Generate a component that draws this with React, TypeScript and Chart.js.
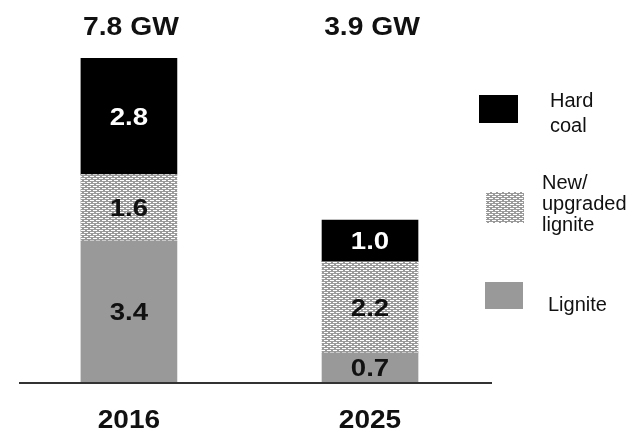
import React, { useEffect, useRef } from "react";
import { Chart, registerables } from "chart.js";

Chart.register(...registerables);

const categories = ["2016", "2025"];
const ligniteValues = [3.4, 0.7];
const newLigniteValues = [1.6, 2.2];
const hardCoalValues = [2.8, 1.0];
const totalLabels = ["7.8 GW", "3.9 GW"];
const seriesNames = ["Lignite", "New/\nupgraded\nlignite", "Hard\ncoal"];

const FONT = '"Liberation Sans", Arial, sans-serif';

function makePattern(): CanvasPattern | string {
  const c = document.createElement("canvas");
  c.width = 6;
  c.height = 4;
  const g = c.getContext("2d");
  if (!g) return "#bbb";
  g.fillStyle = "#9a9a9a";
  g.fillRect(0, 0, 6, 4);
  g.fillStyle = "#ffffff";
  g.fillRect(0, 0, 4, 1);
  g.fillRect(3, 2, 3, 1);
  g.fillRect(0, 2, 1, 1);
  const p = g.createPattern(c, "repeat");
  return p || "#bbb";
}

function drawText(
  ctx: CanvasRenderingContext2D,
  text: string,
  x: number,
  y: number,
  font: string,
  color: string,
  stretch: number,
  align: CanvasTextAlign = "center"
) {
  ctx.save();
  ctx.translate(x, y);
  ctx.scale(stretch, 1);
  ctx.font = font;
  ctx.fillStyle = color;
  ctx.textAlign = align;
  ctx.textBaseline = "alphabetic";
  ctx.fillText(text, 0, 0);
  ctx.restore();
}

export default function App() {
  const ref = useRef<HTMLCanvasElement | null>(null);

  useEffect(() => {
    if (!ref.current) return;
    const pattern = makePattern();
    const colors: (string | CanvasPattern)[] = ["#999999", pattern, "#000000"];
    const valueColors = ["#111111", "#111111", "#ffffff"];
    const seriesData = [ligniteValues, newLigniteValues, hardCoalValues];

    const legendBoxes = [
      { x: 485, y: 282, w: 38, h: 27, tx: 548, ty: 311, lh: 21 },
      { x: 486, y: 192, w: 38, h: 31, tx: 542, ty: 189, lh: 21 },
      { x: 479, y: 95, w: 39, h: 28, tx: 550, ty: 107, lh: 25 },
    ];

    const overlay = {
      id: "overlay",
      afterDatasetsDraw(chart: any) {
        const ctx: CanvasRenderingContext2D = chart.ctx;
        const area = chart.chartArea;
        const xScale = chart.scales.x;
        // baseline
        ctx.save();
        ctx.strokeStyle = "#333333";
        ctx.lineWidth = 2;
        ctx.beginPath();
        ctx.moveTo(area.left, area.bottom + 1);
        ctx.lineTo(area.right, area.bottom + 1);
        ctx.stroke();
        ctx.restore();

        // value labels
        const vSize = 24;
        chart.data.datasets.forEach((ds: any, di: number) => {
          const meta = chart.getDatasetMeta(di);
          meta.data.forEach((el: any, i: number) => {
            const v = seriesData[di][i];
            const cy = (el.y + el.base) / 2;
            drawText(
              ctx,
              v.toFixed(1),
              el.x,
              cy + vSize * 0.716 / 2,
              `bold ${vSize}px ${FONT}`,
              valueColors[di],
              1.15
            );
          });
        });

        // totals and categories
        categories.forEach((cat, i) => {
          const x = xScale.getPixelForValue(i);
          drawText(ctx, totalLabels[i], x + 2, 35, `bold 25px ${FONT}`, "#111111", 1.13);
          drawText(ctx, cat, x, area.bottom + 46, `bold 25px ${FONT}`, "#111111", 1.12);
        });

        // legend
        legendBoxes.forEach((b, i) => {
          ctx.save();
          ctx.fillStyle = colors[i] as any;
          ctx.fillRect(b.x, b.y, b.w, b.h);
          ctx.restore();
          const lines = seriesNames[i].split("\n");
          lines.forEach((ln, k) => {
            drawText(ctx, ln, b.tx, b.ty + k * b.lh, `20px ${FONT}`, "#111111", 1.0, "left");
          });
        });
      },
    };

    const chart = new Chart(ref.current, {
      type: "bar",
      data: {
        datasets: seriesData.map((vals, di) => ({
          label: seriesNames[di].replace(/\n/g, " "),
          data: vals.map((v, i) => ({ x: i, y: v })),
          backgroundColor: colors[di] as any,
          borderWidth: 0,
          barThickness: 96,
        })),
      },
      options: {
        responsive: false,
        animation: false,
        layout: { padding: { left: 19, right: 141, top: 50, bottom: 51 } },
        plugins: { legend: { display: false }, tooltip: { enabled: false } },
        scales: {
          x: {
            type: "linear",
            min: -0.456,
            max: 1.506,
            offset: false,
            display: false,
            stacked: true,
          },
          y: { min: 0, max: 8, display: false, stacked: true },
        },
      },
      plugins: [overlay],
    });
    return () => chart.destroy();
  }, []);

  return (
    <div
      style={{
        position: "fixed",
        left: 0,
        top: 0,
        width: 633,
        height: 433,
        background: "#ffffff",
      }}
    >
      <canvas ref={ref} width={633} height={433} />
    </div>
  );
}
